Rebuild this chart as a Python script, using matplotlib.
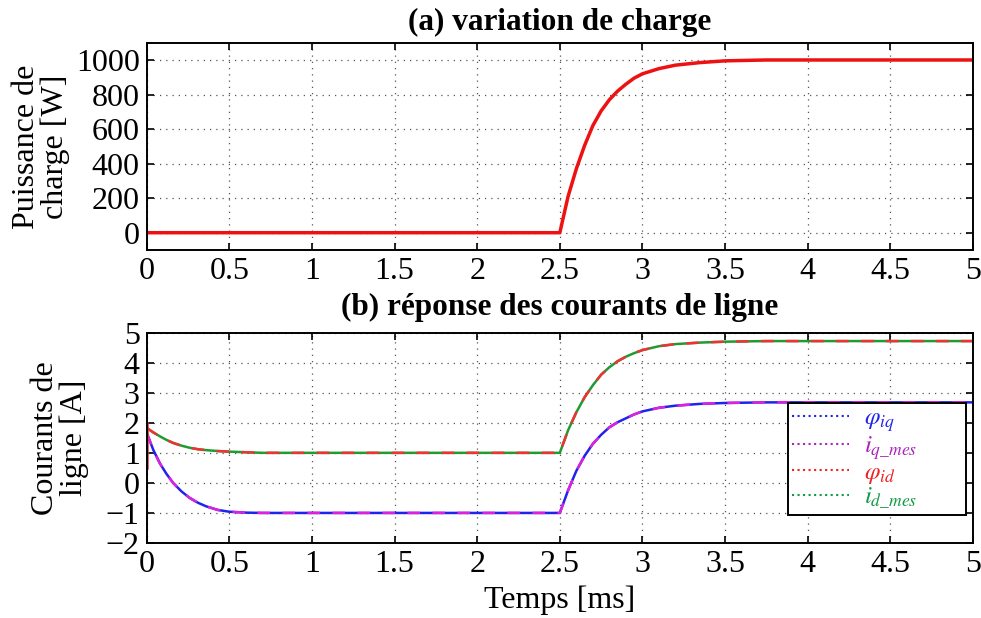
import matplotlib
matplotlib.use('Agg')
from matplotlib import pyplot as plt
from matplotlib.lines import Line2D

plt.rcParams['font.family'] = ['Liberation Serif', 'DejaVu Serif']
plt.rcParams['mathtext.fontset'] = 'stix'

# (a) load power [W] vs time [ms]
t_power = [0, 2.5, 2.55, 2.6, 2.65, 2.7, 2.75, 2.8, 2.85, 2.9, 2.95, 3.0, 3.1, 3.2, 3.35, 3.5, 3.75, 4.0, 5.0]
power = [0, 0, 210, 370, 505, 620, 705, 770, 820, 860, 895, 920, 950, 970, 985, 995, 1000, 1000, 1000]

# (b) line currents [A] vs time [ms]
t_cur = [0, 0.04, 0.08, 0.12, 0.16, 0.21, 0.26, 0.31, 0.36, 0.43, 0.5, 0.6, 0.7, 1.0, 2.5,
         2.55, 2.6, 2.65, 2.7, 2.75, 2.8, 2.85, 2.9, 2.95, 3.0, 3.1, 3.2, 3.35, 3.5, 3.75, 4.0, 5.0]
i_d = [1.83, 1.68, 1.55, 1.43, 1.33, 1.24, 1.17, 1.12, 1.09, 1.06, 1.04, 1.02, 1.0, 1.0, 1.0,
       1.75, 2.35, 2.85, 3.25, 3.6, 3.85, 4.05, 4.2, 4.32, 4.42, 4.55, 4.62, 4.67, 4.7, 4.72, 4.72, 4.72]
i_q = [1.67, 1.1, 0.65, 0.3, 0.0, -0.28, -0.5, -0.66, -0.78, -0.9, -0.96, -0.99, -1.0, -1.0, -1.0,
       -0.25, 0.4, 0.9, 1.3, 1.6, 1.85, 2.02, 2.15, 2.28, 2.38, 2.5, 2.57, 2.63, 2.66, 2.68, 2.68, 2.68]

x_ticks = [0, 0.5, 1, 1.5, 2, 2.5, 3, 3.5, 4, 4.5, 5]
x_labels = ['0', '0.5', '1', '1.5', '2', '2.5', '3', '3.5', '4', '4.5', '5']

fig = plt.figure(figsize=(9.81, 6.18), dpi=100)
ax1 = fig.add_axes([0.1495, 0.5955, 0.8423, 0.3354])
ax2 = fig.add_axes([0.1495, 0.1214, 0.8423, 0.3403])


def style_axis(ax):
    ax.set_xlim(0, 5)
    ax.set_xticks(x_ticks)
    ax.set_xticklabels(x_labels)
    ax.grid(True, linestyle=(0, (1, 4)), color='#555555', linewidth=0.9)
    ax.tick_params(direction='in', top=True, right=True, labelsize=23, length=5, width=1.2, pad=5)
    for s in ax.spines.values():
        s.set_linewidth(1.4)


ax1.plot(t_power, power, color='#ee1111', linewidth=2.5)
style_axis(ax1)
ax1.set_ylim(-100, 1100)
ax1.set_yticks([0, 200, 400, 600, 800, 1000])
ax1.set_ylabel('Puissance de\ncharge [W]', fontsize=23, linespacing=1.0, labelpad=4)
ax1.set_title('(a) variation de charge', fontsize=22.5, fontweight='bold', pad=9)

ax2.plot(t_cur, i_q, color='#2222ee', linewidth=1.8)
ax2.plot(t_cur, i_q, color='#dd22dd', linewidth=1.8, dashes=(5, 5))
ax2.plot(t_cur, i_d, color='#229933', linewidth=1.8)
ax2.plot(t_cur, i_d, color='#ee3333', linewidth=1.8, dashes=(5, 5))
ax2.plot([0, 0], [0.5, 2.0], color='#ee3333', linewidth=1.8)
style_axis(ax2)
ax2.set_ylim(-2, 5)
ax2.set_yticks([-2, -1, 0, 1, 2, 3, 4, 5])
ax2.set_ylabel('Courants de\nligne [A]', fontsize=23, linespacing=1.0, labelpad=12)
ax2.set_xlabel('Temps [ms]', fontsize=23, labelpad=5)
ax2.set_title('(b) réponse des courants de ligne', fontsize=22.5, fontweight='bold', pad=13)

leg_colors = ['#2222ee', '#aa22bb', '#ee2222', '#119944']
leg_labels = [r'$\varphi_{iq}$', r'$i_{q\_mes}$', r'$\varphi_{id}$', r'$i_{d\_mes}$']
handles = [Line2D([0], [0], color=c, linestyle=':', linewidth=1.5) for c in leg_colors]
leg = ax2.legend(handles, leg_labels, loc='lower left', bbox_to_anchor=(0.776, 0.133, 0.215, 0.46),
                 mode='expand', fontsize=18, labelspacing=0.0, handlelength=2.3, handletextpad=0.6,
                 borderpad=0.15, borderaxespad=0, fancybox=False, edgecolor='black', framealpha=1)
leg.get_frame().set_linewidth(1.4)
for txt, c in zip(leg.get_texts(), leg_colors):
    txt.set_color(c)

fig.savefig('out.png', dpi=100)
